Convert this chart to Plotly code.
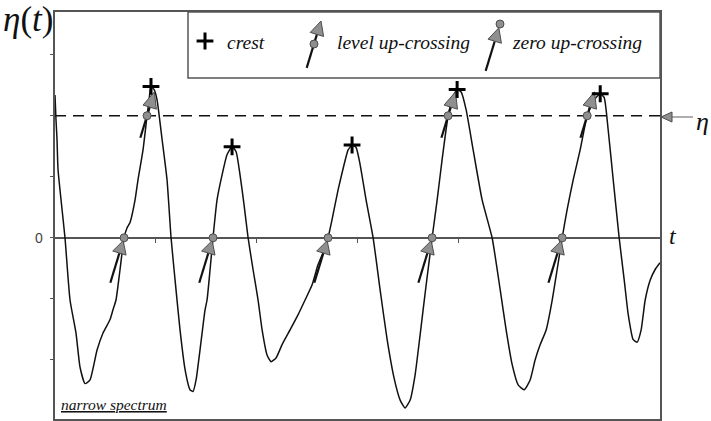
import math
import plotly.graph_objects as go

# surface elevation record eta(t) (narrow-band sea state)
t = [0.000, 0.010, 0.020, 0.030, 0.099, 0.149, 0.208, 0.248, 0.298, 0.347,
     0.417, 0.476, 0.546, 0.575, 0.605, 0.645, 0.685, 0.714, 0.744, 0.794,
     0.823, 0.873, 0.913, 0.933, 0.952, 0.982, 1.012, 1.062, 1.111, 1.151,
     1.200, 1.240, 1.290, 1.339, 1.369, 1.399, 1.438, 1.488, 1.508, 1.538,
     1.567, 1.607, 1.657, 1.706, 1.756, 1.796, 1.835, 1.875, 1.915, 1.964,
     2.014, 2.054, 2.103, 2.143, 2.192, 2.252, 2.331, 2.411, 2.480, 2.550,
     2.609, 2.669, 2.708, 2.748, 2.808, 2.867, 2.907, 2.946, 2.986, 3.026,
     3.085, 3.155, 3.224, 3.294, 3.363, 3.423, 3.472, 3.522, 3.571, 3.621,
     3.681, 3.740, 3.790, 3.839, 3.899, 3.948, 3.988, 4.028, 4.077, 4.147,
     4.236, 4.335, 4.415, 4.474, 4.534, 4.593, 4.653, 4.712, 4.762, 4.812,
     4.871, 4.931, 4.980, 5.030, 5.079, 5.139, 5.208, 5.278, 5.347, 5.407,
     5.446, 5.486, 5.536, 5.595, 5.645, 5.685, 5.734, 5.774, 5.813, 5.853,
     5.903, 5.952, 6.000]
eta = [2.34, 1.93, 1.61, 1.12, 0.00, -1.02, -1.56, -2.12, -2.39, -2.33,
       -1.84, -1.56, -1.34, -1.18, -1.02, -0.52, 0.00, 0.16, 0.25, 0.62,
       0.95, 1.44, 2.00, 2.26, 2.48, 2.43, 2.26, 1.61, 0.95, 0.00,
       -0.85, -1.51, -2.16, -2.49, -2.52, -2.33, -1.84, -1.18, -1.02, -0.52,
       0.00, 0.62, 1.03, 1.36, 1.49, 1.41, 1.03, 0.54, 0.00, -0.52,
       -1.02, -1.51, -1.92, -2.03, -1.97, -1.75, -1.51, -1.26, -1.02, -0.77,
       -0.44, -0.20, 0.00, 0.30, 0.79, 1.20, 1.44, 1.52, 1.48, 1.20,
       0.62, 0.00, -0.85, -1.67, -2.30, -2.66, -2.79, -2.66, -2.25, -1.59,
       -0.77, 0.00, 0.62, 1.28, 2.00, 2.31, 2.43, 2.39, 2.10, 1.44,
       0.62, 0.00, -0.85, -1.51, -2.08, -2.41, -2.49, -2.33, -2.00, -1.75,
       -1.51, -1.02, -0.52, 0.00, 0.46, 0.95, 1.44, 2.00, 2.26, 2.36,
       2.30, 1.77, 0.95, 0.00, -0.69, -1.26, -1.67, -1.71, -1.51, -1.02,
       -0.69, -0.52, -0.41]

crest_t = [0.952, 1.756, 2.946, 3.988, 5.407]
crest_eta = [2.48, 1.49, 1.52, 2.43, 2.36]
zero_up_t = [0.685, 1.567, 2.708, 3.740, 5.030]
LEVEL = 2.0
level_up_t = [0.913, 3.899, 5.278]
y_ticks = [-2, -1, 0, 1, 2, 3]
t_ticks = [1, 2, 3, 4, 5]

# ---- page geometry (pixels) ----
W, H = 711, 421
BOX_L, BOX_R, BOX_T, BOX_B = 55, 660, 12, 419
X_RANGE = [0.0, 6.0]
Y_RANGE = [-2.97, 3.70]
SX = (BOX_R - BOX_L) / (X_RANGE[1] - X_RANGE[0])
SY = (BOX_B - BOX_T) / (Y_RANGE[1] - Y_RANGE[0])
XDOM = [BOX_L / W, BOX_R / W]
YDOM = [(H - BOX_B) / H, (H - BOX_T) / H]
ZERO_POS = YDOM[0] + (0 - Y_RANGE[0]) / (Y_RANGE[1] - Y_RANGE[0]) * (YDOM[1] - YDOM[0])

INK = "#111111"
FRAME = "#555555"
GREY_FILL = "#8f8f8f"
GREY_EDGE = "#4d4d4d"
SERIF = "Liberation Serif, Times New Roman, DejaVu Serif, serif"

# arrows lean a little to the right, pointing up the rising flank
TILT = math.radians(17)
D = (math.sin(TILT), -math.cos(TILT))   # screen direction (y down)
N = (math.cos(TILT), math.sin(TILT))


def shifted(x, y, k, s=0.0, sx=SX, sy=SY, ydown=False):
    """point k px along the arrow direction (and s px sideways) from (x, y)"""
    dx = k * D[0] + s * N[0]
    dy = k * D[1] + s * N[1]
    return x + dx / sx, (y + dy / sy) if ydown else (y - dy / sy)


def arrow(x, y, tail, base, tip, half, **kw):
    a = shifted(x, y, tail, **kw)
    b = shifted(x, y, base, **kw)
    c = shifted(x, y, tip, **kw)
    l = shifted(x, y, base, half, **kw)
    r = shifted(x, y, base, -half, **kw)
    return [a, b], [l, c, r, l]


def collect(parts):
    xs, ys = [], []
    for part in parts:
        for px, py in part:
            xs.append(px)
            ys.append(py)
        xs.append(None)
        ys.append(None)
    return xs, ys


shafts, heads = [], []
for tz in zero_up_t:
    s, h = arrow(tz, 0.0, -47, -16, -3, 7)
    shafts.append(s)
    heads.append(h)
for tl in level_up_t:
    s, h = arrow(tl, LEVEL, -23, 9, 25, 7)
    shafts.append(s)
    heads.append(h)

fig = go.Figure()

fig.add_trace(go.Scatter(x=X_RANGE, y=[LEVEL, LEVEL], mode="lines",
                         line=dict(color=INK, width=1.4, dash="11px,7px"),
                         hoverinfo="skip"))
fig.add_trace(go.Scatter(x=t, y=eta, mode="lines",
                         line=dict(color=INK, width=1.5, shape="spline", smoothing=0.5),
                         hoverinfo="skip"))

sx_, sy_ = collect(shafts)
fig.add_trace(go.Scatter(x=sx_, y=sy_, mode="lines",
                         line=dict(color=INK, width=2.2), hoverinfo="skip"))
hx_, hy_ = collect(heads)
fig.add_trace(go.Scatter(x=hx_, y=hy_, mode="lines", fill="toself",
                         fillcolor=GREY_FILL, line=dict(color=GREY_EDGE, width=1),
                         hoverinfo="skip"))

circle = dict(symbol="circle", size=8, color=GREY_FILL,
              line=dict(color=GREY_EDGE, width=1))
fig.add_trace(go.Scatter(x=zero_up_t, y=[0.0] * len(zero_up_t), mode="markers",
                         marker=circle, xaxis="x2", hoverinfo="skip"))
fig.add_trace(go.Scatter(x=level_up_t, y=[LEVEL] * len(level_up_t), mode="markers",
                         marker=circle, hoverinfo="skip"))
fig.add_trace(go.Scatter(x=crest_t, y=crest_eta, mode="markers",
                         marker=dict(symbol="cross-thin", size=12,
                                     line=dict(color="black", width=3)),
                         hoverinfo="skip"))

# ---- key and side decorations on a full-page pixel frame ----
kw = dict(sx=1.0, sy=1.0, ydown=True)
key_shafts, key_heads = [], []
s, h = arrow(314, 44, -25, 10, 24, 7, **kw)
key_shafts.append(s)
key_heads.append(h)
s, h = arrow(500, 24, -49, -18, -4, 7, **kw)
key_shafts.append(s)
key_heads.append(h)
# level marker pointing at the frame from the right
key_shafts.append([(672, 117), (693, 117)])
key_heads.append([(672, 112), (661, 117), (672, 122), (672, 112)])

ks_x, ks_y = collect(key_shafts[:2])
fig.add_trace(go.Scatter(x=ks_x, y=ks_y, mode="lines", xaxis="x3", yaxis="y3",
                         line=dict(color=INK, width=2.2), hoverinfo="skip"))
fig.add_trace(go.Scatter(x=[p[0] for p in key_shafts[2]], y=[p[1] for p in key_shafts[2]],
                         mode="lines", xaxis="x3", yaxis="y3",
                         line=dict(color="#777777", width=1.2), hoverinfo="skip"))
kh_x, kh_y = collect(key_heads)
fig.add_trace(go.Scatter(x=kh_x, y=kh_y, mode="lines", fill="toself", xaxis="x3", yaxis="y3",
                         fillcolor=GREY_FILL, line=dict(color=GREY_EDGE, width=1),
                         hoverinfo="skip"))
fig.add_trace(go.Scatter(x=[314, 500], y=[44, 24], mode="markers", xaxis="x3", yaxis="y3",
                         marker=circle, hoverinfo="skip"))
fig.add_trace(go.Scatter(x=[205], y=[41], mode="markers", xaxis="x3", yaxis="y3",
                         marker=dict(symbol="cross-thin", size=12,
                                     line=dict(color="black", width=3)),
                         hoverinfo="skip"))


def label(text, x, y, size, anchor="left", family=SERIF, color=INK):
    return dict(text=text, x=x, y=y, xref="x3", yref="y3", showarrow=False,
                xanchor=anchor, yanchor="middle",
                font=dict(family=family, size=size, color=color))


annotations = [
    label("<i>η</i>(<i>t</i>)", 1, 19, 35),
    label("0", 45, 238, 14, anchor="right",
          family="Liberation Sans, Arial, sans-serif", color="#444444"),
    label("<i>t</i>", 667, 236, 24),
    label("<i>η</i>", 694, 121, 26),
    label("<i>crest</i>", 225, 42, 19.5),
    label("<i>level up-crossing</i>", 335, 42, 19.5),
    label("<i>zero up-crossing</i>", 510, 42, 19.5),
    label("<u><i>narrow spectrum</i></u>", 59, 404, 15.5),
]

fig.update_layout(
    width=W, height=H,
    margin=dict(l=0, r=0, t=0, b=0),
    paper_bgcolor="white",
    plot_bgcolor="rgba(0,0,0,0)",
    showlegend=False,
    hovermode=False,
    xaxis=dict(domain=XDOM, range=X_RANGE, showline=True, mirror=True,
               linecolor=FRAME, linewidth=1.5, showgrid=False, zeroline=False,
               showticklabels=False, ticks=""),
    xaxis2=dict(overlaying="x", anchor="free", position=ZERO_POS, range=X_RANGE,
                tickvals=t_ticks, ticks="outside", ticklen=4, tickwidth=1.3,
                tickcolor=FRAME, showticklabels=False, showline=False,
                showgrid=False, zeroline=False),
    yaxis=dict(domain=YDOM, range=Y_RANGE, showline=True, mirror=True,
               linecolor=FRAME, linewidth=1.5, showgrid=False,
               zeroline=True, zerolinecolor=FRAME, zerolinewidth=1.5,
               tickvals=y_ticks, ticks="outside", ticklen=3, tickwidth=1.3,
               tickcolor=FRAME, showticklabels=False),
    xaxis3=dict(domain=[0, 1], range=[0, W], anchor="y3", visible=False),
    yaxis3=dict(domain=[0, 1], range=[H, 0], anchor="x3", visible=False),
    shapes=[dict(type="rect", xref="x3", yref="y3", x0=188, x1=BOX_R, y0=BOX_T, y1=78,
                 line=dict(color=FRAME, width=1.5), fillcolor="rgba(0,0,0,0)",
                 layer="above")],
    annotations=annotations,
)

fig.write_html("out.html")
